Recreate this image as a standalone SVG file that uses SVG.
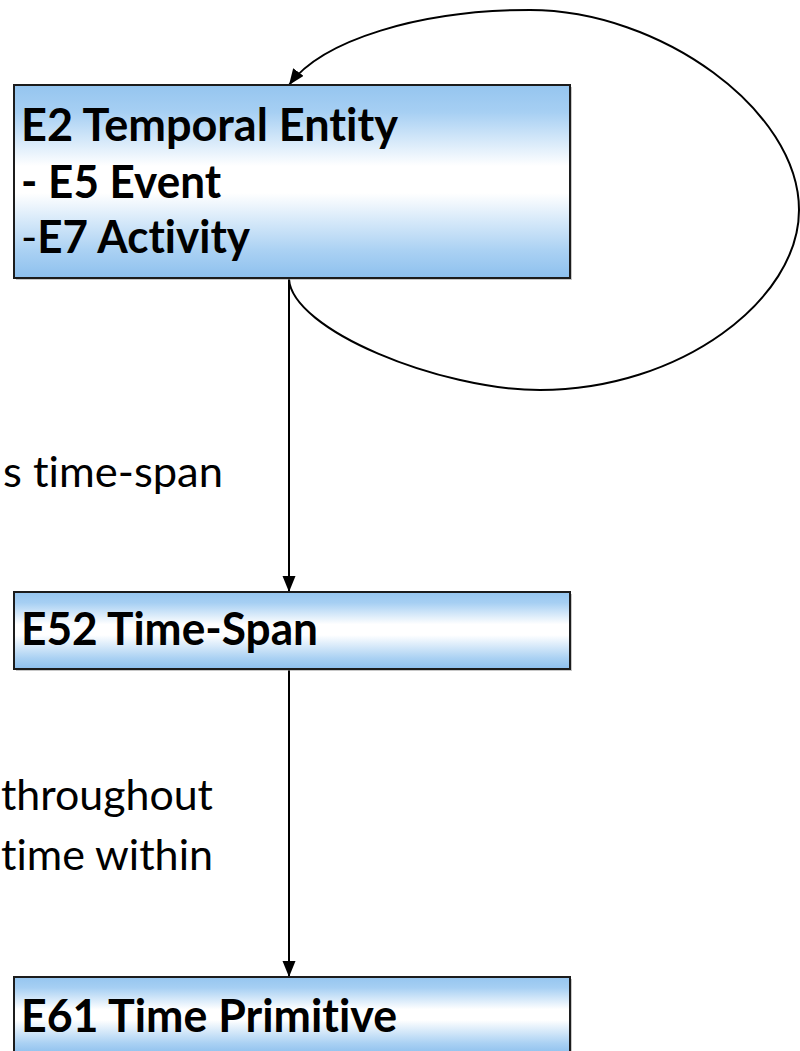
<svg xmlns="http://www.w3.org/2000/svg" width="800" height="1051" viewBox="0 0 800 1051">
  <defs>
    <linearGradient id="boxFill" x1="0" y1="0" x2="0" y2="1">
      <stop offset="0" stop-color="#95C5EF"/>
      <stop offset="0.14" stop-color="#A6CFF3"/>
      <stop offset="0.42" stop-color="#FFFFFF"/>
      <stop offset="0.56" stop-color="#FFFFFF"/>
      <stop offset="0.86" stop-color="#AAD1F3"/>
      <stop offset="1" stop-color="#8DC0EE"/>
    </linearGradient>
    <marker id="arrow" markerUnits="userSpaceOnUse" markerWidth="17" markerHeight="14" refX="16" refY="6.5" orient="auto">
      <path d="M0,0 L16,6.5 L0,13 Z" fill="#000"/>
    </marker>
  </defs>
  <style>
    text { font-variant-ligatures: none; font-feature-settings: "liga" 0, "clig" 0; }
    .shadow { fill: #9a9a9a; opacity: 0.55; }
    .box { fill: url(#boxFill); stroke: #1c1c1c; stroke-width: 2; }
    .title { font-family: Lato, "Open Sans", sans-serif; font-weight: bold; font-size: 45px; fill: #000; }
    .thin { font-weight: normal; }
    .label { font-family: Lato, "Open Sans", sans-serif; font-size: 42px; fill: #000; }
    .edge { fill: none; stroke: #000; stroke-width: 2; }
  </style>

  <rect width="800" height="1051" fill="#FFFFFF"/>

  <!-- property labels -->
  <g id="labels">
    <text class="label" x="3" y="487" textLength="220" lengthAdjust="spacingAndGlyphs">s time-span</text>
    <text class="label" x="1" y="810" textLength="212" lengthAdjust="spacingAndGlyphs">throughout</text>
    <text class="label" x="1" y="870" textLength="212" lengthAdjust="spacingAndGlyphs">time within</text>
  </g>

  <!-- connectors -->
  <g id="connectors">
    <line class="edge" x1="289" y1="279" x2="289" y2="592" marker-end="url(#arrow)"/>
    <line class="edge" x1="289" y1="670" x2="289" y2="977" marker-end="url(#arrow)"/>
    <path class="edge" d="M289,279 C292,330 440,390 540,390 C680,390 799,300 799,210 C799,110 660,10 530,10 C420,10 322,40 289,85" marker-end="url(#arrow)"/>
  </g>

  <!-- E2 Temporal Entity -->
  <g id="node-e2">
    <rect class="shadow" x="16" y="87" width="556" height="193"/>
    <rect class="box" x="14" y="85" width="556" height="193"/>
    <text class="title" x="21" y="141" textLength="377" lengthAdjust="spacingAndGlyphs">E2 Temporal Entity</text>
    <text class="title" x="21" y="198" textLength="200" lengthAdjust="spacingAndGlyphs">- E5 Event</text>
    <text class="title" x="21" y="253" textLength="229" lengthAdjust="spacingAndGlyphs"><tspan class="thin">-</tspan>E7 Activity</text>
  </g>

  <!-- E52 Time-Span -->
  <g id="node-e52">
    <rect class="shadow" x="16" y="594" width="556" height="77"/>
    <rect class="box" x="14" y="592" width="556" height="77"/>
    <text class="title" x="21" y="645" textLength="297" lengthAdjust="spacingAndGlyphs">E52 Time-Span</text>
  </g>

  <!-- E61 Time Primitive -->
  <g id="node-e61">
    <rect class="shadow" x="16" y="979" width="556" height="77"/>
    <rect class="box" x="14" y="977" width="556" height="77"/>
    <text class="title" x="21" y="1032" textLength="376" lengthAdjust="spacingAndGlyphs">E61 Time Primitive</text>
  </g>
</svg>
